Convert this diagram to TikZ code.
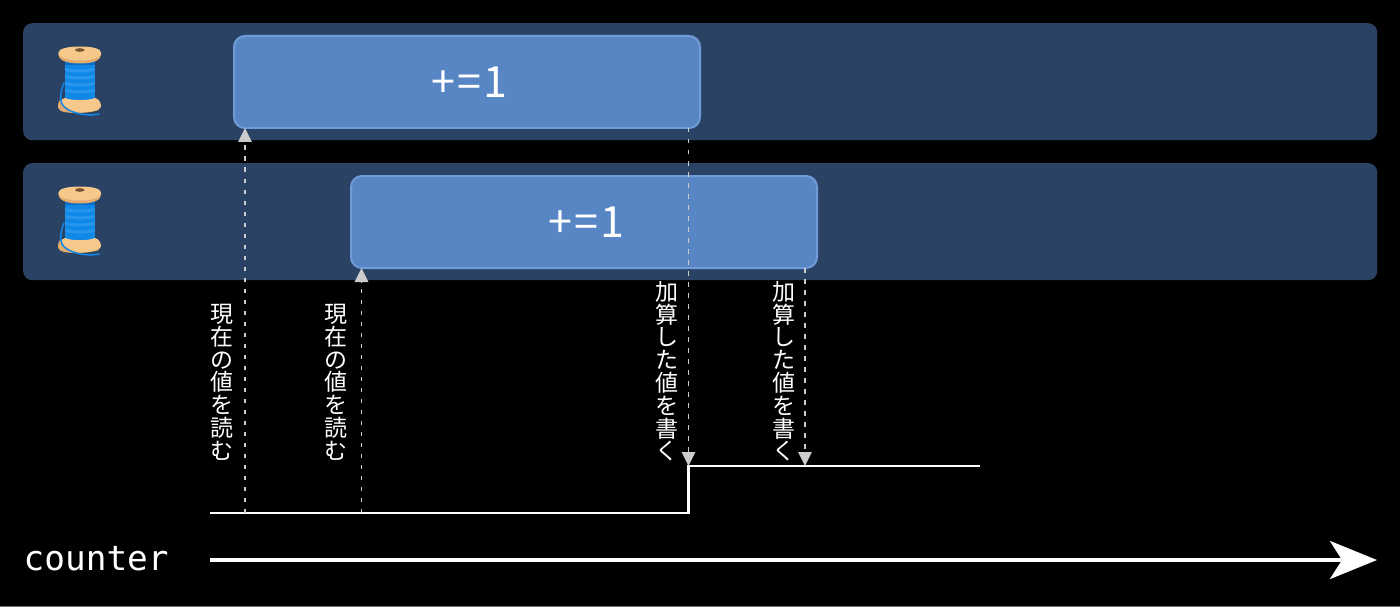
\documentclass[tikz,border=0pt]{standalone}
\usepackage{fontspec}
\setmainfont{Noto Sans CJK JP}
\newfontfamily\cjkjp{Noto Sans CJK JP}
\newfontfamily\opfont[LetterSpace=5]{Noto Sans CJK JP}
\newfontfamily\monof{DejaVu Sans Mono}
\usetikzlibrary{arrows.meta,calc}
\definecolor{panelc}{RGB}{42,67,101}
\definecolor{boxc}{RGB}{88,134,196}
\definecolor{boxl}{RGB}{112,155,216}
\definecolor{headc}{RGB}{204,204,204}
\definecolor{woodc}{RGB}{246,200,138}
\definecolor{wooddark}{RGB}{226,172,112}
\definecolor{holec}{RGB}{120,84,52}
\definecolor{threadc}{RGB}{16,136,232}
\definecolor{threadd}{RGB}{10,108,196}
\definecolor{threadl}{RGB}{40,150,238}
\tikzset{
  panel/.style={fill=panelc,rounded corners=9pt,draw=none},
  opbox/.style={fill=boxc,draw=boxl,line width=2pt,rounded corners=11pt},
  optext/.style={text=white,font=\opfont\fontsize{43}{43}\selectfont,inner sep=0pt},
  vlabel/.style={text=white,font=\cjkjp\fontsize{23}{22.8}\selectfont,align=center,inner sep=0pt},
  readline/.style={draw=headc,line width=1.6pt,dash pattern=on 4.5pt off 6.5pt,-{Triangle[length=14pt,width=13.5pt,fill=headc]}},
  signal/.style={draw=white,line width=2.8pt,line join=miter},
  axisline/.style={draw=white,line width=4pt,-{Stealth[length=47pt,width=38pt,inset=12pt]}},
}
\newcommand{\spoolicon}[1]{%
\begin{scope}[shift={(0,#1)}]
  \fill[threadc] (65,60) -- (94.5,60) -- (94.5,101) -- (65,101) -- cycle;
  \foreach \yy in {68,75,82,89}{\fill[threadl] (65,\yy) .. controls (75,\yy+2) and (85,\yy+2) .. (94.5,\yy) -- (94.5,\yy+3) .. controls (85,\yy+5) and (75,\yy+5) .. (65,\yy+3) -- cycle;}
  \fill[threadd] (65,61) rectangle (94.5,65);
  \fill[wooddark] (60,100) .. controls (56,106) and (58,111) .. (64,112) .. controls (75,114) and (90,113) .. (99,110) -- (90,100) -- cycle;
  \fill[woodc] (65,98) .. controls (72,101) and (88,101) .. (95,98) .. controls (99,99) and (101,103) .. (101,106) .. controls (101,110) and (90,113) .. (78,112) .. controls (70,111) and (63,108) .. (61,103) .. controls (61,100) and (63,98) .. (65,98) -- cycle;
  \fill[wooddark] (58.3,54) .. controls (58.3,60) and (66,63.5) .. (80,63.5) .. controls (94,63.5) and (101.2,60) .. (101.2,54) -- cycle;
  \fill[woodc] (58.3,53) .. controls (58.3,48.5) and (68,46.5) .. (80,46.5) .. controls (92,46.5) and (101.2,48.5) .. (101.2,53) .. controls (101.2,57.5) and (92,60.5) .. (80,60.5) .. controls (68,60.5) and (58.3,57.5) .. (58.3,53) -- cycle;
  \fill[holec] (79.8,50) ellipse [x radius=4.8,y radius=1.8];
  \draw[threadc,line width=1.5pt,line cap=round] (64,83) .. controls (60,93) and (60,100) .. (62,104) .. controls (66,112) and (85,117) .. (99,114);
\end{scope}}
\begin{document}
\begin{tikzpicture}[x=1pt,y=-1pt]
\useasboundingbox (0,0) rectangle (1400,607);
\fill[black] (0,0) rectangle (1400,607);
\fill[black!55] (0,606) rectangle (1400,607);
\node[panel,minimum width=1354pt,minimum height=117pt,anchor=north west,inner sep=0pt] (panelA) at (23,23) {};
\node[panel,minimum width=1354pt,minimum height=117pt,anchor=north west,inner sep=0pt] (panelB) at (23,163) {};
\spoolicon{0}
\spoolicon{140}
\node[opbox,minimum width=466pt,minimum height=92pt,anchor=north west,inner sep=0pt] (boxA) at (233,35) {};
\node[opbox,minimum width=466pt,minimum height=92pt,anchor=north west,inner sep=0pt] (boxB) at (350,175) {};
\node[optext] (textA) at ($(boxA.center)+(2.5,0)$) {+=1};
\node[optext] (textB) at ($(boxB.center)+(2.5,0)$) {+=1};
\coordinate (sigStart) at (210,513);
\coordinate (sigStepLow) at (688.5,513);
\coordinate (sigStepHigh) at (688.5,466);
\coordinate (sigEnd) at (980,466);
\draw[signal] (sigStart) -- (sigStepLow) -- (sigStepHigh) -- (sigEnd);
\coordinate (r1low) at (245,513);
\coordinate (r1high) at (245,128);
\coordinate (r2low) at (361.5,513);
\coordinate (r2high) at (361.5,268);
\coordinate (w1high) at (688.5,128);
\coordinate (w1low) at (688.5,466);
\coordinate (w2high) at (805,268);
\coordinate (w2low) at (805,466);
\draw[readline] (r1low) -- (r1high);
\draw[readline] (r2low) -- (r2high);
\draw[readline] (w1high) -- (w1low);
\draw[readline] (w2high) -- (w2low);
\node[vlabel,anchor=north] (lab1) at (221.5,304) {現\\在\\の\\値\\を\\読\\む};
\node[vlabel,anchor=north] (lab2) at (335.5,304) {現\\在\\の\\値\\を\\読\\む};
\node[vlabel,anchor=north] (lab3) at (667,281) {加\\算\\し\\た\\値\\を\\書\\く};
\node[vlabel,anchor=north] (lab4) at (784,281) {加\\算\\し\\た\\値\\を\\書\\く};
\coordinate (axisStart) at (210,560);
\coordinate (axisEnd) at (1377,560);
\draw[axisline] (axisStart) -- (axisEnd);
\node[text=white,font=\monof\fontsize{34.4}{34.4}\selectfont,anchor=base west,inner sep=0pt] (counterLabel) at (23.5,570) {counter};
\end{tikzpicture}
\end{document}
